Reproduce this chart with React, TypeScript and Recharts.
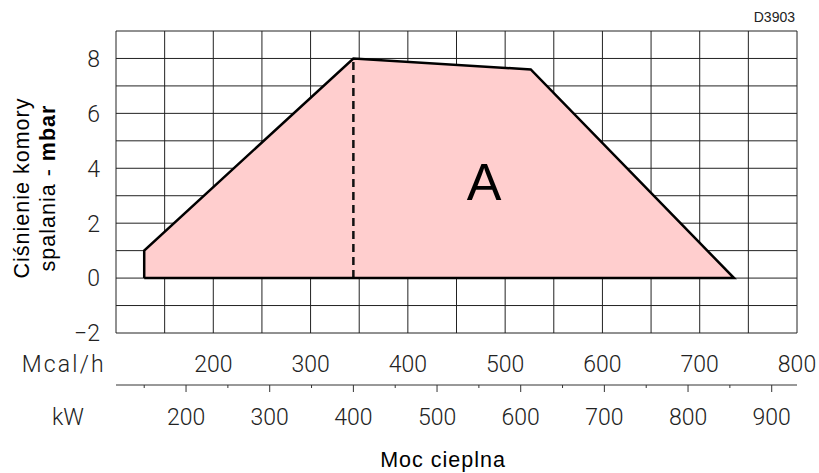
import React from 'react';
import { ComposedChart, Area, Line, XAxis, YAxis, CartesianGrid, ReferenceLine } from 'recharts';

// Working field outline (heat output in kW, chamber pressure in mbar)
const powerKW = [150, 150, 400, 612, 855, 150];
const pressureMbar = [0, 1, 8, 7.6, 0, 0];

// Dashed divider
const dividerKW = 400;
const dividerBottom = 0;
const dividerTop = 8;

// Axes
const mcalTicks = [100, 150, 200, 250, 300, 350, 400, 450, 500, 550, 600, 650, 700, 750, 800];
const mcalLabels = [200, 300, 400, 500, 600, 700, 800];
const kwTicks = [150, 200, 250, 300, 350, 400, 450, 500, 550, 600, 650, 700, 750, 800, 850, 900];
const kwLabels = [200, 300, 400, 500, 600, 700, 800, 900];
const mbarTicks = [-2, -1, 0, 1, 2, 3, 4, 5, 6, 7, 8, 9];
const mbarLabels = [-2, 0, 2, 4, 6, 8];
const MCAL_PER_KW = 0.86;
const mcalDomain = [100, 800];
const kwDomain = [mcalDomain[0] / MCAL_PER_KW, mcalDomain[1] / MCAL_PER_KW];
const mbarDomain = [-2, 9];

const outline = powerKW.map((kw, i) => ({ kw, mbar: pressureMbar[i] }));
const fillData = outline.slice(0, outline.length - 1);

const TICK_FONT = 'Roboto, "DejaVu Sans", sans-serif';
const TICK_WEIGHT = 300;
const TICK_SIZE = 23;
const LABEL_FONT = '"Liberation Sans", Arial, sans-serif';

const MCAL_ID = 'a_mcal';
const KW_ID = 'b_kw';

const fmt = (v: number) => (v < 0 ? '\u2212' + Math.abs(v) : String(v));

const YTick = (props: any) => {
  const { x, y, payload } = props;
  if (!mbarLabels.includes(payload.value)) return <g />;
  return (
    <text x={x - 16} y={y + 8.4} textAnchor="end" fontFamily={TICK_FONT} fontWeight={TICK_WEIGHT} fontSize={TICK_SIZE} fill="#222">
      {fmt(payload.value)}
    </text>
  );
};

const McalTick = (props: any) => {
  const { x, y, payload } = props;
  if (!mcalLabels.includes(payload.value)) return <g />;
  return (
    <text x={x} y={y + 38.7} textAnchor="middle" fontFamily={TICK_FONT} fontWeight={TICK_WEIGHT} fontSize={TICK_SIZE} fill="#222">
      {payload.value}
    </text>
  );
};

const KwTick = (props: any) => {
  const { x, y, payload } = props;
  const major = kwLabels.includes(payload.value);
  return (
    <g>
      <line x1={x} x2={x} y1={y} y2={y + (major ? 7 : 3)} stroke="#333" strokeWidth={1} />
      {major && (
        <text x={x} y={y + 40} textAnchor="middle" fontFamily={TICK_FONT} fontWeight={TICK_WEIGHT} fontSize={TICK_SIZE} fill="#222">
          {payload.value}
        </text>
      )}
    </g>
  );
};

const StaticTexts = () => (
  <g>
    <text x={795} y={21.7} textAnchor="end" fontFamily={LABEL_FONT} fontSize={14} fill="#222">D3903</text>
    <text x={484} y={200} textAnchor="middle" fontFamily={LABEL_FONT} fontSize={52} fill="#000">A</text>
    <text x={21.7} y={371.7} fontFamily={TICK_FONT} fontWeight={TICK_WEIGHT} fontSize={TICK_SIZE} fill="#222" textLength={82} lengthAdjust="spacing">Mcal/h</text>
    <text x={52} y={425} fontFamily={TICK_FONT} fontWeight={TICK_WEIGHT} fontSize={TICK_SIZE} fill="#222">kW</text>
    <text x={443} y={466.7} textAnchor="middle" fontFamily={LABEL_FONT} fontSize={21.5} fill="#000" letterSpacing={1}>Moc cieplna</text>
    <g transform="translate(28.5,188) rotate(-90)">
      <text x={0} y={0} textAnchor="middle" fontFamily={LABEL_FONT} fontSize={21.5} fill="#000" letterSpacing={1}>Ciśnienie komory</text>
    </g>
    <g transform="translate(55,188) rotate(-90)">
      <text x={0} y={0} textAnchor="middle" fontFamily={LABEL_FONT} fontSize={21.5} fill="#000" letterSpacing={1}>
        spalania - <tspan fontWeight="bold">mbar</tspan>
      </text>
    </g>
  </g>
);

export default function App() {
  return (
    <div style={{ position: 'absolute', left: 0, top: 0, width: 819, height: 473, background: '#fff' }}>
      <ComposedChart width={819} height={473} margin={{ top: 31, right: 22, left: 0, bottom: 36 }}>
        <XAxis
          xAxisId={MCAL_ID}
          type="number"
          dataKey="mcal"
          domain={mcalDomain}
          ticks={mcalTicks}
          interval={0}
          allowDataOverflow
          axisLine={false}
          tickLine={false}
          tickSize={0}
          tickMargin={0}
          height={52}
          tick={<McalTick />}
        />
        <XAxis
          xAxisId={KW_ID}
          type="number"
          dataKey="kw"
          domain={kwDomain}
          ticks={kwTicks}
          interval={0}
          allowDataOverflow
          axisLine={{ stroke: '#333', strokeWidth: 1 }}
          tickLine={false}
          tickSize={0}
          tickMargin={0}
          height={52}
          tick={<KwTick />}
        />
        <YAxis
          yAxisId="p"
          type="number"
          domain={mbarDomain}
          ticks={mbarTicks}
          interval={0}
          allowDataOverflow
          width={116}
          axisLine={false}
          tickLine={false}
          tickSize={0}
          tickMargin={0}
          tick={<YTick />}
          label={<StaticTexts />}
        />
        <Area
          xAxisId={KW_ID}
          yAxisId="p"
          data={fillData}
          dataKey="mbar"
          type="linear"
          baseValue={0}
          fill="#ffcece"
          fillOpacity={1}
          stroke="none"
          isAnimationActive={false}
        />
        <CartesianGrid
          xAxisId={MCAL_ID}
          yAxisId="p"
          stroke="#222"
          strokeWidth={1}
          fill="none"
        />
        <ReferenceLine
          xAxisId={KW_ID}
          yAxisId="p"
          segment={[{ x: dividerKW, y: dividerBottom }, { x: dividerKW, y: dividerTop }]}
          stroke="#111"
          strokeWidth={2.5}
          strokeDasharray="8 5"
        />
        <Line
          xAxisId={KW_ID}
          yAxisId="p"
          data={outline}
          dataKey="mbar"
          type="linear"
          stroke="#000"
          strokeWidth={2.5}
          dot={false}
          activeDot={false}
          isAnimationActive={false}
        />
      </ComposedChart>
    </div>
  );
}
